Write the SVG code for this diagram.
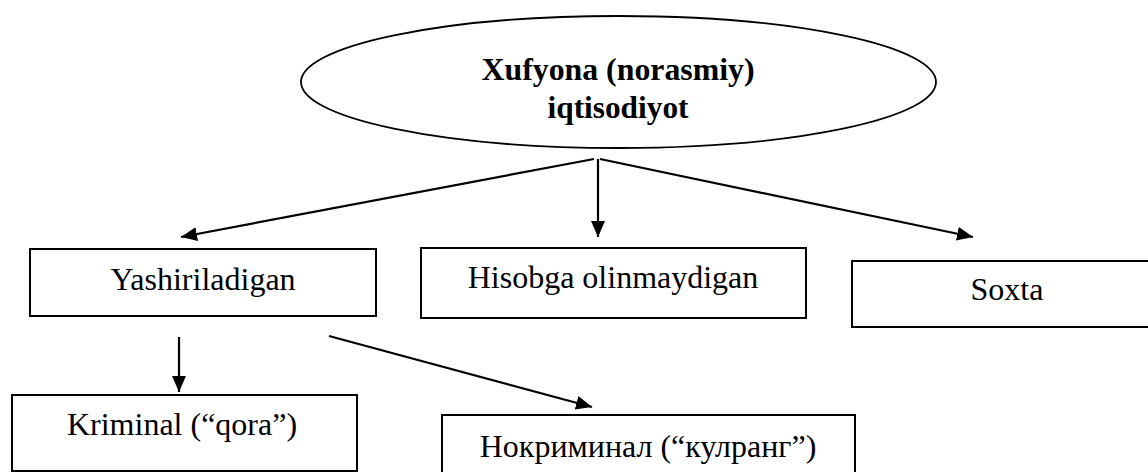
<svg xmlns="http://www.w3.org/2000/svg" width="1148" height="472" viewBox="0 0 1148 472">
<style>
.box{fill:#fff;stroke:#000;stroke-width:2}
.ell{fill:#fff;stroke:#000;stroke-width:1.8}
.lbl{font-size:32px;fill:#000;text-anchor:middle}
.ttl{font-size:32px;font-weight:bold;fill:#000;text-anchor:middle}
.con{stroke:#000;stroke-width:2.2;fill:none;marker-end:url(#arr)}
</style>
<defs>
<marker id="arr" markerUnits="userSpaceOnUse" markerWidth="17" markerHeight="15" refX="16" refY="7" orient="auto">
<path d="M0,0 L16,7 L0,14 z" fill="#000"/>
</marker>
</defs>
<rect width="1148" height="472" fill="#fff"/>
<g id="connectors">
<line class="con" x1="594" y1="159" x2="181" y2="237"/>
<line class="con" x1="598" y1="159" x2="598" y2="237"/>
<line class="con" x1="600" y1="159" x2="973" y2="237"/>
<line class="con" x1="179" y1="337" x2="179" y2="392"/>
<line class="con" x1="329" y1="336" x2="592" y2="407"/>
</g>
<g font-family="Liberation Serif, Tinos, Times New Roman, DejaVu Serif, serif">
<g id="root">
<ellipse class="ell" cx="618.5" cy="82" rx="317.5" ry="66"/>
<text class="ttl" x="618" y="80" textLength="273" lengthAdjust="spacingAndGlyphs">Xufyona (norasmiy)</text>
<text class="ttl" x="618" y="118" textLength="141" lengthAdjust="spacingAndGlyphs">iqtisodiyot</text>
</g>
<g id="yashiriladigan">
<rect class="box" x="30" y="249" width="346" height="67"/>
<text class="lbl" x="203" y="290">Yashiriladigan</text>
</g>
<g id="hisobga">
<rect class="box" x="421" y="248" width="385" height="70"/>
<text class="lbl" x="613" y="288">Hisobga olinmaydigan</text>
</g>
<g id="soxta">
<rect class="box" x="852" y="261" width="310" height="66"/>
<text class="lbl" x="1007" y="300">Soxta</text>
</g>
<g id="kriminal">
<rect class="box" x="12" y="395" width="345" height="76"/>
<text class="lbl" x="182" y="435">Kriminal (“qora”)</text>
</g>
<g id="nokriminal">
<rect class="box" x="442" y="415" width="413" height="70"/>
<text class="lbl" x="648" y="457">Нокриминал (“кулранг”)</text>
</g>
</g>
</svg>
